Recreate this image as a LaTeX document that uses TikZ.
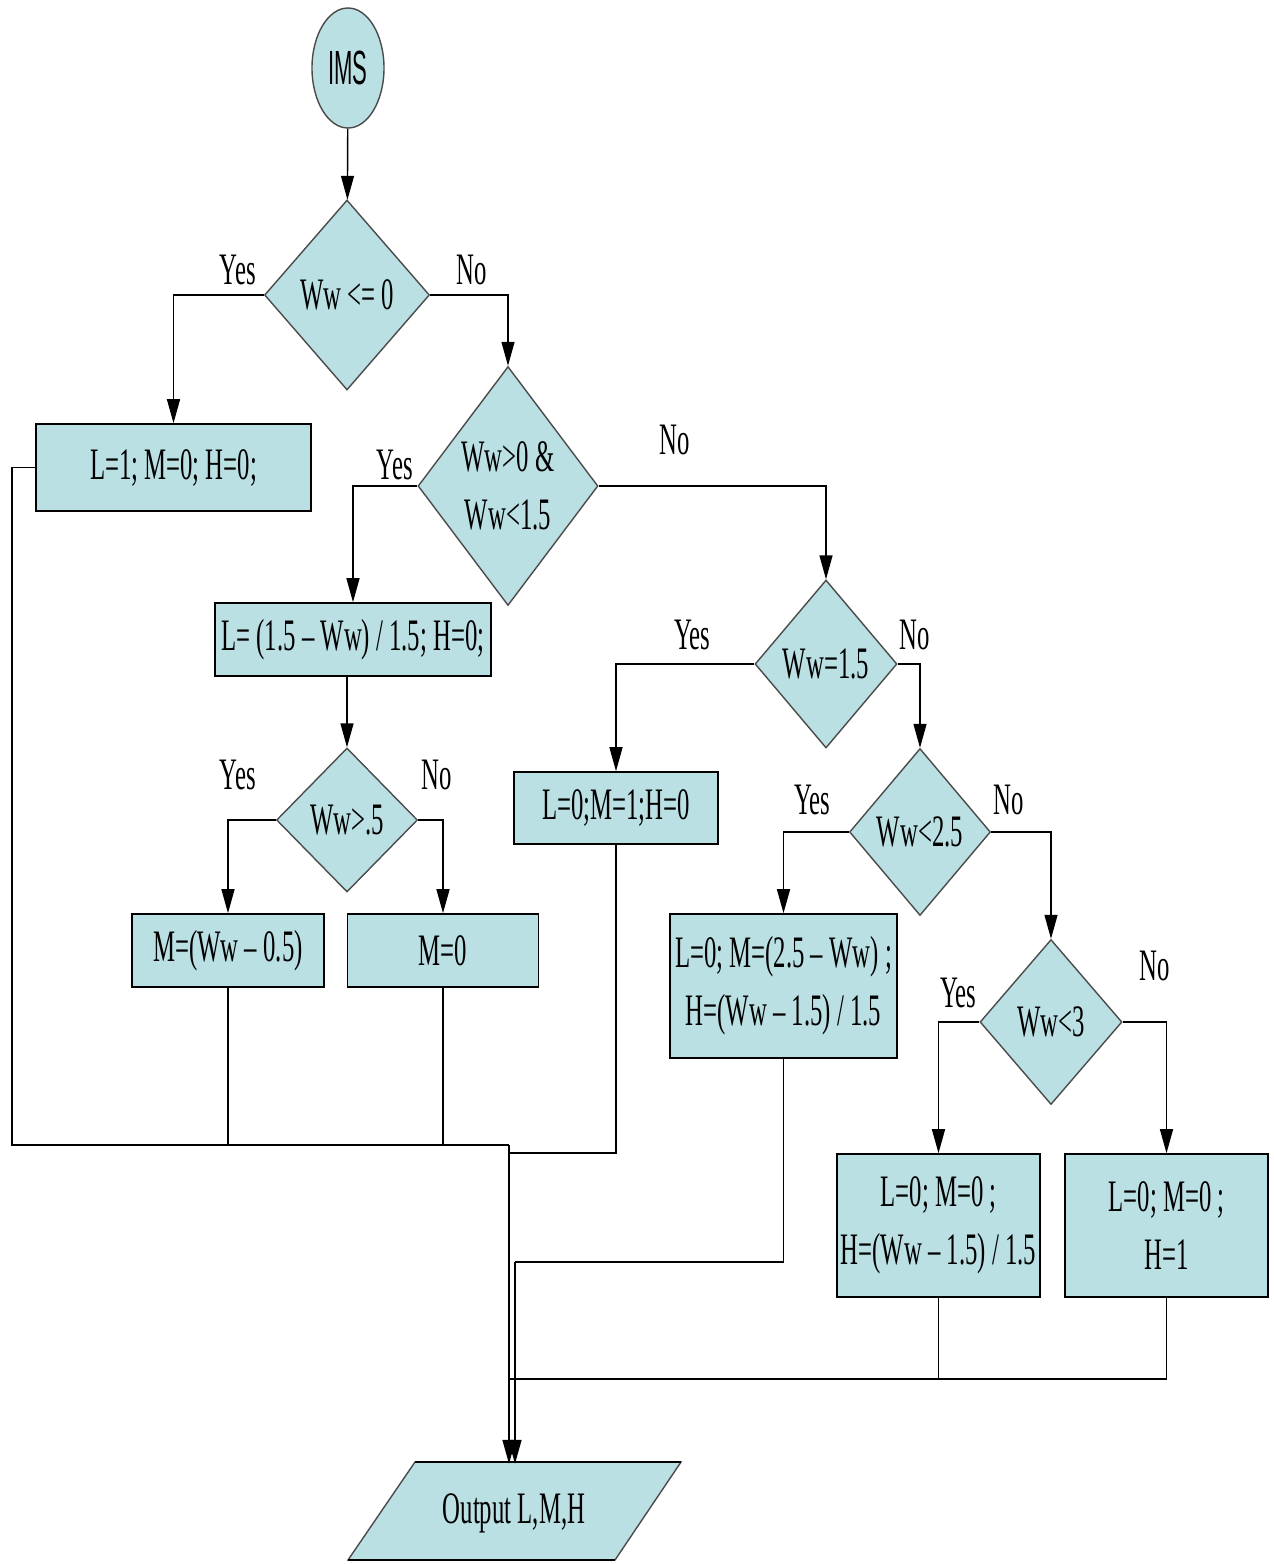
\documentclass[tikz,border=0pt]{standalone}
\usepackage{fontspec}
\setmainfont[FakeStretch=0.55]{Liberation Serif}
\newfontfamily\imsfont[FakeStretch=0.46]{Liberation Sans}
\usetikzlibrary{shapes.geometric,arrows.meta}
\definecolor{boxfill}{RGB}{186,224,228}
\definecolor{diaedge}{RGB}{75,75,75}
\tikzset{
  proc/.style={draw=black, line width=1.6pt, fill=boxfill, inner sep=0pt, align=center},
  dia/.style={diamond, draw=diaedge, line width=1.4pt, fill=boxfill, inner sep=0pt},
  lbl/.style={inner sep=0pt},
  conn/.style={line width=1.4pt},
  arr/.style={conn, -{Triangle[length=24pt,width=13pt]}},
}
\begin{document}
\begin{tikzpicture}[x=1pt, y=-1pt, font=\fontsize{45}{58}\selectfont]
\useasboundingbox (0,0) rectangle (1274,1564);

% start
\node[ellipse, draw=diaedge, line width=1.4pt, fill=boxfill, inner sep=0pt,
      minimum width=72pt, minimum height=120pt,
      font=\imsfont\fontsize{48}{58}\selectfont] (ims) at (348,68) {IMS};

% decisions
\node[dia, minimum width=165pt, minimum height=190pt, label=center:{Ww <= 0}] (d1) at (347,295) {};
\node[dia, minimum width=180pt, minimum height=239pt,
      label={[align=center]center:Ww>0 \&\\Ww<1.5}] (d2) at (508,486) {};
\node[dia, minimum width=141pt, minimum height=144pt, label=center:{Ww>.5}] (d3) at (347,820) {};
\node[dia, minimum width=142pt, minimum height=168pt, label=center:{Ww=1.5}] (d4) at (826,664) {};
\node[dia, minimum width=141pt, minimum height=167pt, label=center:{Ww<2.5}] (d5) at (920,832) {};
\node[dia, minimum width=142pt, minimum height=165pt, label=center:{Ww<3}] (d6) at (1051,1022) {};

% processes
\node[proc, minimum width=275pt, minimum height=87pt] (b1) at (173.5,467.5) {L=1; M=0; H=0;};
\node[proc, minimum width=276pt, minimum height=73pt] (b2) at (353,639.5) {L= (1.5 – Ww) / 1.5; H=0;};
\node[proc, minimum width=192pt, minimum height=73pt] (b3a) at (228,950.5) {M=(Ww – 0.5)};
\node[proc, minimum width=191pt, minimum height=73pt] (b3b) at (443,950.5) {M=0};
\node[proc, minimum width=204pt, minimum height=72pt] (b4) at (616,808) {L=0;M=1;H=0};
\node[proc, minimum width=227pt, minimum height=144pt] (b5) at (783.5,986) {L=0; M=(2.5 – Ww) ;\\H=(Ww – 1.5) / 1.5};
\node[proc, minimum width=203pt, minimum height=143pt] (b6) at (938.5,1225.5) {L=0; M=0 ;\\H=(Ww – 1.5) / 1.5};
\node[proc, minimum width=203pt, minimum height=143pt] (b7) at (1166.5,1225.5) {L=0; M=0 ;\\H=1};

% output parallelogram
\filldraw[fill=boxfill, draw=diaedge, line width=1.4pt] (415,1462) -- (681,1462) -- (615,1560) -- (348,1560) -- cycle;
\draw[line width=2pt] (415,1462) -- (681,1462);
\draw[line width=2pt] (348,1560) -- (615,1560);
\node[inner sep=0pt, minimum width=200pt, minimum height=98pt] (out) at (514,1513) {Output L,M,H};

% branch labels
\node[lbl] (y1) at (238,270) {Yes};
\node[lbl] (n1) at (472,270) {No};
\node[lbl] (y2) at (395,465) {Yes};
\node[lbl] (n2) at (675,440) {No};
\node[lbl] (y3) at (238,775) {Yes};
\node[lbl] (n3) at (437,775) {No};
\node[lbl] (y4) at (692,635) {Yes};
\node[lbl] (n4) at (915,635) {No};
\node[lbl] (y5) at (812,800) {Yes};
\node[lbl] (n5) at (1009,800) {No};
\node[lbl] (y6) at (958,993) {Yes};
\node[lbl] (n6) at (1155,966) {No};

% flow arrows
\draw[arr] (ims) -- (d1);
\draw[arr] (d1.west) -| (b1.north);
\draw[arr] (d1.east) -| (d2.north);
\draw[arr] (d2.west) -| (b2.north);
\draw[arr] (d2.east) -| (d4.north);
\draw[arr] (b2.south -| d3.north) -- (d3.north);
\draw[arr] (d3.west) -| (b3a.north);
\draw[arr] (d3.east) -| (b3b.north);
\draw[arr] (d4.west) -| (b4.north);
\draw[arr] (d4.east) -| (d5.north);
\draw[arr] (d5.west) -| (b5.north);
\draw[arr] (d5.east) -| (d6.north);
\draw[arr] (d6.west) -| (b6.north);
\draw[arr] (d6.east) -| (b7.north);

% merging lines
\coordinate (j1) at (509,1145);
\coordinate (j2) at (509,1153);
\coordinate (j3) at (515,1262);
\coordinate (j4) at (509,1379);
\draw[conn] (b1.west) -| (12,1145) -- (j1);
\draw[conn] (b3a.south) -- (b3a.south |- j1);
\draw[conn] (b3b.south) |- (j1);
\draw[conn] (b4.south) |- (j2);
\draw[conn] (b5.south) |- (j3);
\draw[conn] (b6.south) |- (j4);
\draw[conn] (b7.south) |- (j4);
\draw[arr] (j1) -- (j1 |- out.north);
\draw[arr] (j3) -- (j3 |- out.north);
\end{tikzpicture}
\end{document}
